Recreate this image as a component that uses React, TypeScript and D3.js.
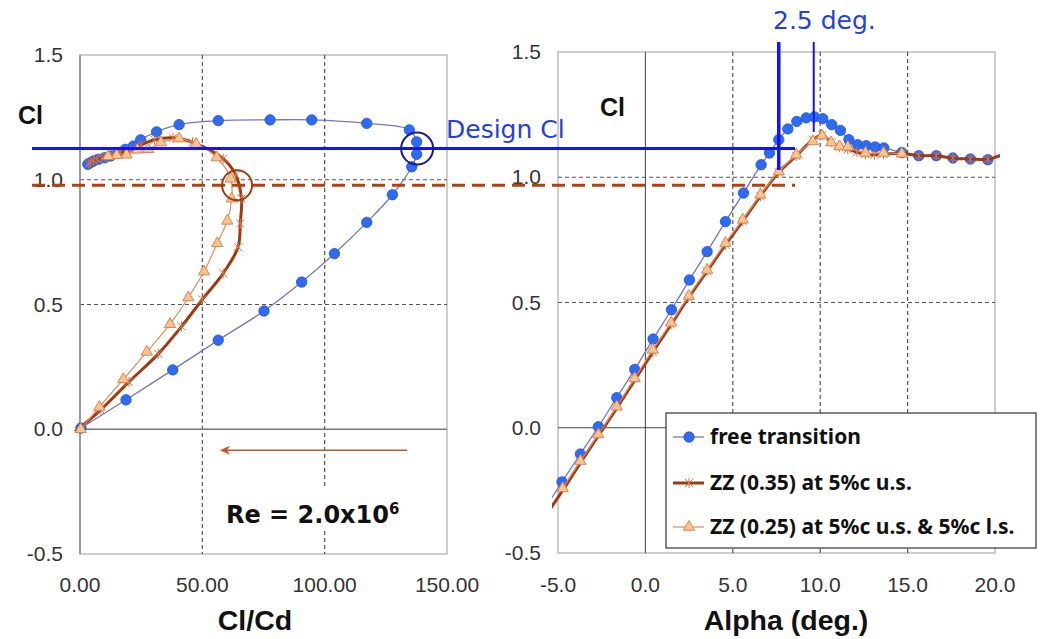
import React, { useRef, useEffect } from 'react';
import * as d3 from 'd3';

// ---- left panel: Cl vs Cl/Cd ----
const freeClCd = [0.4, 18.8, 37.9, 56.5, 75.2, 90.6, 104, 117.2, 127.7, 135.6, 137.6, 137.6, 134.6, 117.2, 94.7, 77.7, 56.5, 40.5, 31.3, 24.8, 21.8, 18.5, 15.5, 12.5, 10, 7.5, 5.5, 4.2, 3.2];
const freeClPolar = [0.005, 0.118, 0.238, 0.357, 0.474, 0.59, 0.704, 0.829, 0.94, 1.052, 1.102, 1.152, 1.2, 1.226, 1.24, 1.24, 1.237, 1.221, 1.192, 1.16, 1.135, 1.122, 1.109, 1.095, 1.088, 1.082, 1.075, 1.068, 1.062];

const zz35ClCd = [-2, 8.5, 20, 32, 41.5, 50, 58.5, 64.6, 65.5, 66, 63.6, 58.5, 46, 38, 30.5, 25, 20.5, 16.5, 13.5, 11, 9, 7, 5.5, 4.3, 3.4];
const zz35ClPolar = [-0.01, 0.078, 0.19, 0.302, 0.412, 0.52, 0.625, 0.73, 0.825, 0.925, 1.02, 1.085, 1.15, 1.168, 1.16, 1.14, 1.12, 1.11, 1.1, 1.092, 1.088, 1.082, 1.076, 1.07, 1.064];

const zz25ClCd = [0.3, 7.9, 17.7, 27.3, 36.8, 44.3, 50.7, 56.1, 60.2, 62, 61.6, 55.9, 47.5, 40.5, 33.1, 27.9, 23.5, 19, 15, 11.5];
const zz25ClPolar = [0.0, 0.089, 0.2, 0.31, 0.421, 0.528, 0.632, 0.745, 0.835, 0.924, 1.004, 1.089, 1.143, 1.165, 1.149, 1.122, 1.12, 1.1, 1.098, 1.094];

// ---- right panel: Cl vs alpha ----
const freeAlpha = [-5.8, -4.77, -3.72, -2.69, -1.64, -0.61, 0.44, 1.49, 2.52, 3.53, 4.58, 5.61, 6.62, 7.1, 7.63, 8.15, 8.66, 9.2, 9.67, 10.15, 10.66, 11.16, 11.64, 12.15, 12.63, 13.15, 13.64, 14.67, 15.64, 16.64, 17.59, 18.59, 19.59];
const freeCl = [-0.33, -0.216, -0.105, 0.004, 0.12, 0.233, 0.354, 0.471, 0.59, 0.703, 0.823, 0.937, 1.05, 1.097, 1.15, 1.193, 1.223, 1.237, 1.241, 1.234, 1.21, 1.187, 1.15, 1.13, 1.126, 1.121, 1.117, 1.099, 1.086, 1.086, 1.077, 1.073, 1.07];

const zz35Alpha = [-5.8, -4.73, -3.72, -2.69, -1.64, -0.61, 0.42, 1.47, 2.48, 3.53, 4.58, 5.57, 6.58, 7.63, 8.63, 9.58, 10.11, 10.63, 11.1, 11.58, 12.1, 12.59, 13.1, 13.62, 14.67, 15.64, 16.64, 17.59, 18.59, 19.59, 20.6];
const zz35Cl = [-0.36, -0.25, -0.14, -0.032, 0.078, 0.19, 0.302, 0.412, 0.52, 0.625, 0.73, 0.825, 0.925, 1.02, 1.085, 1.15, 1.168, 1.14, 1.12, 1.112, 1.1, 1.092, 1.09, 1.093, 1.095, 1.086, 1.086, 1.076, 1.073, 1.072, 1.095];

const zz25Alpha = [-4.73, -3.72, -2.69, -1.64, -0.61, 0.42, 1.47, 2.48, 3.53, 4.58, 5.57, 6.58, 7.63, 8.63, 9.58, 10.11, 10.63, 11.1, 11.58, 12.59, 13.62, 14.67];
const zz25Cl = [-0.242, -0.133, -0.027, 0.084, 0.197, 0.311, 0.419, 0.526, 0.63, 0.737, 0.83, 0.93, 1.023, 1.09, 1.143, 1.166, 1.139, 1.123, 1.121, 1.097, 1.097, 1.094];

const leftXTicks = [0, 50, 100, 150];
const rightXTicks = [-5, 0, 5, 10, 15, 20];
const yTicks = [-0.5, 0, 0.5, 1.0, 1.5];

const legendLabels = ['free transition', 'ZZ (0.35) at 5%c u.s.', 'ZZ (0.25) at 5%c u.s. & 5%c l.s.'];

// annotations
const designCl = 1.125;
const zzCl = 0.978;
const designClCd = 137.8;
const zzClCd = 64.2;
const alphaMarks = [7.63, 9.63];
const arrowFrom = 133.7;
const arrowTo = 57.2;
const arrowCl = -0.084;

const BLUE_LINE = '#7474c4';
const BLUE_DOT = '#2f6bf2';
const BROWN = '#a3380e';
const ORANGE_LINE = '#dc8a60';
const ORANGE_FILL = '#f9c48f';
const ANNOT_BLUE = '#1414f0';

const hyphen = (s) => s.replace('\u2212', '-');

function App() {
  const ref = useRef(null);

  useEffect(() => {
    const svg = d3.select(ref.current);
    svg.selectAll('*').remove();

    const tickFont = '"Liberation Sans", Arial, sans-serif';
    const titleFont = '"Liberation Sans", Arial, sans-serif';
    const legendFont = '"Noto Sans", "Liberation Sans", sans-serif';
    const annotFont = '"DejaVu Sans", sans-serif';

    const defs = svg.append('defs');

    const panels = [
      {
        id: 'L',
        x: d3.scaleLinear().domain([0, 150]).range([80, 447]),
        y: d3.scaleLinear().domain([-0.5, 1.5]).range([554, 55]),
        xTicks: leftXTicks,
        fmt: d3.format('.2f'),
        title: 'Cl/Cd',
        titleX: 255,
        series: [
          { xs: freeClCd, ys: freeClPolar },
          { xs: zz35ClCd, ys: zz35ClPolar },
          { xs: zz25ClCd, ys: zz25ClPolar },
        ],
        clLabel: [18, 124],
      },
      {
        id: 'R',
        x: d3.scaleLinear().domain([-5, 20]).range([558, 995]),
        y: d3.scaleLinear().domain([-0.5, 1.5]).range([553, 52]),
        xTicks: rightXTicks,
        fmt: d3.format('.1f'),
        title: 'Alpha (deg.)',
        titleX: 786,
        series: [
          { xs: freeAlpha, ys: freeCl },
          { xs: zz35Alpha, ys: zz35Cl },
          { xs: zz25Alpha, ys: zz25Cl },
        ],
        clLabel: [600, 116],
      },
    ];

    panels.forEach((p) => {
      const [x0, x1] = p.x.range();
      const [y0, y1] = p.y.range();
      const g = svg.append('g');

      defs
        .append('clipPath')
        .attr('id', 'clip' + p.id)
        .append('rect')
        .attr('x', x0 - 6)
        .attr('y', y1 - 6)
        .attr('width', x1 - x0 + 11)
        .attr('height', y0 - y1 + 12);

      // plot border
      g.append('rect')
        .attr('x', x0)
        .attr('y', y1)
        .attr('width', x1 - x0)
        .attr('height', y0 - y1)
        .attr('fill', 'white')
        .attr('stroke', '#bdbdbd')
        .attr('stroke-width', 1.5);

      // dashed grid
      p.xTicks
        .filter((t) => t !== 0 && t !== p.x.domain()[0] && t !== p.x.domain()[1])
        .forEach((t) => {
          g.append('line')
            .attr('x1', p.x(t))
            .attr('x2', p.x(t))
            .attr('y1', y1)
            .attr('y2', y0)
            .attr('stroke', '#555')
            .attr('stroke-width', 1.2)
            .attr('stroke-dasharray', '4,3');
        });
      [0.5, 1.0].forEach((t) => {
        g.append('line')
          .attr('x1', x0)
          .attr('x2', x1)
          .attr('y1', p.y(t))
          .attr('y2', p.y(t))
          .attr('stroke', '#555')
          .attr('stroke-width', 1.2)
          .attr('stroke-dasharray', '4,3');
      });
      // zero lines
      g.append('line')
        .attr('x1', x0)
        .attr('x2', x1)
        .attr('y1', p.y(0))
        .attr('y2', p.y(0))
        .attr('stroke', p.id === 'L' ? '#777' : '#444')
        .attr('stroke-width', p.id === 'L' ? 1.5 : 1);
      g.append('line')
        .attr('x1', p.x(0))
        .attr('x2', p.x(0))
        .attr('y1', y1)
        .attr('y2', y0)
        .attr('stroke', p.id === 'L' ? '#888' : '#444')
        .attr('stroke-width', p.id === 'L' ? 1.5 : 1);

      // tick labels
      g.selectAll('.yt')
        .data(yTicks)
        .enter()
        .append('text')
        .attr('x', x0 - 17)
        .attr('y', (d) => p.y(d) + 7)
        .attr('text-anchor', 'end')
        .attr('font-family', tickFont)
        .attr('font-size', 21)
        .attr('fill', '#333')
        .text((d) => hyphen(d3.format('.1f')(d)));
      g.selectAll('.xt')
        .data(p.xTicks)
        .enter()
        .append('text')
        .attr('x', (d) => p.x(d))
        .attr('y', 592)
        .attr('text-anchor', 'middle')
        .attr('font-family', tickFont)
        .attr('font-size', 21)
        .attr('fill', '#333')
        .text((d) => hyphen(p.fmt(d)));

      // titles
      g.append('text')
        .attr('x', p.titleX)
        .attr('y', 630)
        .attr('text-anchor', 'middle')
        .attr('font-family', titleFont)
        .attr('font-weight', 'bold')
        .attr('font-size', 28.5)
        .attr('fill', '#111')
        .text(p.title);
      g.append('text')
        .attr('x', p.clLabel[0])
        .attr('y', p.clLabel[1])
        .attr('font-family', titleFont)
        .attr('font-weight', 'bold')
        .attr('font-size', 25)
        .attr('fill', '#111')
        .text('Cl');

      // series
      const sg = g.append('g').attr('clip-path', `url(#clip${p.id})`);
      const line = d3
        .line()
        .x((d) => p.x(d[0]))
        .y((d) => p.y(d[1]))
        .curve(d3.curveCatmullRom.alpha(0.5));
      const pts = p.series.map((s) => s.xs.map((v, i) => [v, s.ys[i]]));

      // free transition
      sg.append('path')
        .attr('d', line(pts[0]))
        .attr('fill', 'none')
        .attr('stroke', BLUE_LINE)
        .attr('stroke-width', 1.3);
      sg.selectAll('.dot')
        .data(pts[0])
        .enter()
        .append('circle')
        .attr('cx', (d) => p.x(d[0]))
        .attr('cy', (d) => p.y(d[1]))
        .attr('r', 5.2)
        .attr('fill', BLUE_DOT)
        .attr('stroke', '#1d4fcf')
        .attr('stroke-width', 0.8);

      // ZZ 0.35
      sg.append('path')
        .attr('d', line(pts[1]))
        .attr('fill', 'none')
        .attr('stroke', BROWN)
        .attr('stroke-width', 3);
      sg.selectAll('.ast')
        .data(pts[1].filter((d) => d[0] >= 0))
        .enter()
        .append('path')
        .attr('transform', (d) => `translate(${p.x(d[0])},${p.y(d[1])})`)
        .attr('d', 'M-4,-4L4,4M-4,4L4,-4M0,-5L0,5')
        .attr('stroke', '#d0754a')
        .attr('stroke-width', 1)
        .attr('fill', 'none');

      // ZZ 0.25
      sg.append('path')
        .attr('d', line(pts[2]))
        .attr('fill', 'none')
        .attr('stroke', ORANGE_LINE)
        .attr('stroke-width', 1.2);
      sg.selectAll('.tri')
        .data(pts[2])
        .enter()
        .append('path')
        .attr('transform', (d) => `translate(${p.x(d[0])},${p.y(d[1])})`)
        .attr('d', d3.symbol(d3.symbolTriangle, 55)())
        .attr('fill', ORANGE_FILL)
        .attr('stroke', '#d98450')
        .attr('stroke-width', 1);
    });

    const L = panels[0];
    const R = panels[1];

    // Re label with white backing
    svg.append('rect').attr('x', 218).attr('y', 486).attr('width', 210).attr('height', 42).attr('fill', 'white');
    const re = svg
      .append('text')
      .attr('x', 226)
      .attr('y', 523)
      .attr('font-family', '"DejaVu Sans", Verdana, sans-serif')
      .attr('font-weight', 'bold')
      .attr('font-size', 24)
      .attr('fill', '#111')
      .text('Re = 2.0x10');
    re.append('tspan').attr('dy', -9).attr('font-size', 15).text('6');

    // arrow
    svg
      .append('line')
      .attr('x1', L.x(arrowFrom))
      .attr('x2', L.x(arrowTo) + 6)
      .attr('y1', L.y(arrowCl))
      .attr('y2', L.y(arrowCl))
      .attr('stroke', '#c0562b')
      .attr('stroke-width', 1.6);
    const ax = L.x(arrowTo);
    const ay = L.y(arrowCl);
    svg
      .append('path')
      .attr('d', `M${ax},${ay}L${ax + 10},${ay - 4.5}L${ax + 7},${ay}L${ax + 10},${ay + 4.5}Z`)
      .attr('fill', '#c0562b');

    // design Cl & ZZ Cl horizontal lines
    svg
      .append('line')
      .attr('x1', 32)
      .attr('x2', 795)
      .attr('y1', L.y(zzCl))
      .attr('y2', L.y(zzCl))
      .attr('stroke', '#b4400f')
      .attr('stroke-width', 3)
      .attr('stroke-dasharray', '13,7');
    svg
      .append('line')
      .attr('x1', 32)
      .attr('x2', 795)
      .attr('y1', L.y(designCl))
      .attr('y2', L.y(designCl))
      .attr('stroke', ANNOT_BLUE)
      .attr('stroke-width', 3);

    // circles
    svg
      .append('circle')
      .attr('cx', L.x(designClCd))
      .attr('cy', L.y(designCl))
      .attr('r', 16)
      .attr('fill', 'none')
      .attr('stroke', '#1c1c86')
      .attr('stroke-width', 2);
    svg
      .append('circle')
      .attr('cx', L.x(zzClCd))
      .attr('cy', L.y(zzCl))
      .attr('r', 15)
      .attr('fill', 'none')
      .attr('stroke', BROWN)
      .attr('stroke-width', 2);

    // vertical alpha marks
    svg
      .append('line')
      .attr('x1', R.x(alphaMarks[0]))
      .attr('x2', R.x(alphaMarks[0]))
      .attr('y1', 42)
      .attr('y2', 170)
      .attr('stroke', ANNOT_BLUE)
      .attr('stroke-width', 3.5);
    svg
      .append('line')
      .attr('x1', R.x(alphaMarks[1]))
      .attr('x2', R.x(alphaMarks[1]))
      .attr('y1', 42)
      .attr('y2', 132)
      .attr('stroke', ANNOT_BLUE)
      .attr('stroke-width', 2);

    svg
      .append('text')
      .attr('x', 446)
      .attr('y', 138)
      .attr('font-family', annotFont)
      .attr('font-size', 25)
      .attr('fill', '#2340e0')
      .text('Design Cl');
    svg
      .append('text')
      .attr('x', 773)
      .attr('y', 29)
      .attr('font-family', annotFont)
      .attr('font-size', 25)
      .attr('fill', '#2340e0')
      .text('2.5 deg.');

    // legend
    const lg = svg.append('g');
    lg.append('rect')
      .attr('x', 666)
      .attr('y', 413)
      .attr('width', 370)
      .attr('height', 135)
      .attr('fill', 'white')
      .attr('stroke', '#333')
      .attr('stroke-width', 1.2);
    const rows = [437, 483, 527];
    legendLabels.forEach((label, i) => {
      const cy = rows[i];
      const stroke = [BLUE_LINE, BROWN, ORANGE_LINE][i];
      lg.append('line')
        .attr('x1', 673)
        .attr('x2', 704)
        .attr('y1', cy)
        .attr('y2', cy)
        .attr('stroke', stroke)
        .attr('stroke-width', [1.3, 3, 1.2][i]);
      if (i === 0) {
        lg.append('circle').attr('cx', 689).attr('cy', cy).attr('r', 5.2).attr('fill', BLUE_DOT).attr('stroke', '#1d4fcf').attr('stroke-width', 0.8);
      } else if (i === 1) {
        lg.append('path')
          .attr('transform', `translate(689,${cy})`)
          .attr('d', 'M-4,-4L4,4M-4,4L4,-4M0,-5L0,5')
          .attr('stroke', '#d0754a')
          .attr('fill', 'none');
      } else {
        lg.append('path')
          .attr('transform', `translate(689,${cy})`)
          .attr('d', d3.symbol(d3.symbolTriangle, 55)())
          .attr('fill', ORANGE_FILL)
          .attr('stroke', '#d98450');
      }
      lg.append('text')
        .attr('x', 710)
        .attr('y', cy + 7)
        .attr('font-family', legendFont)
        .attr('font-weight', 'bold')
        .attr('font-size', 21)
        .attr('fill', '#111')
        .text(label);
    });
  }, []);

  return (
    <svg
      ref={ref}
      width={1042}
      height={639}
      style={{ position: 'absolute', left: 0, top: 0, background: 'white' }}
    />
  );
}

export default App;
